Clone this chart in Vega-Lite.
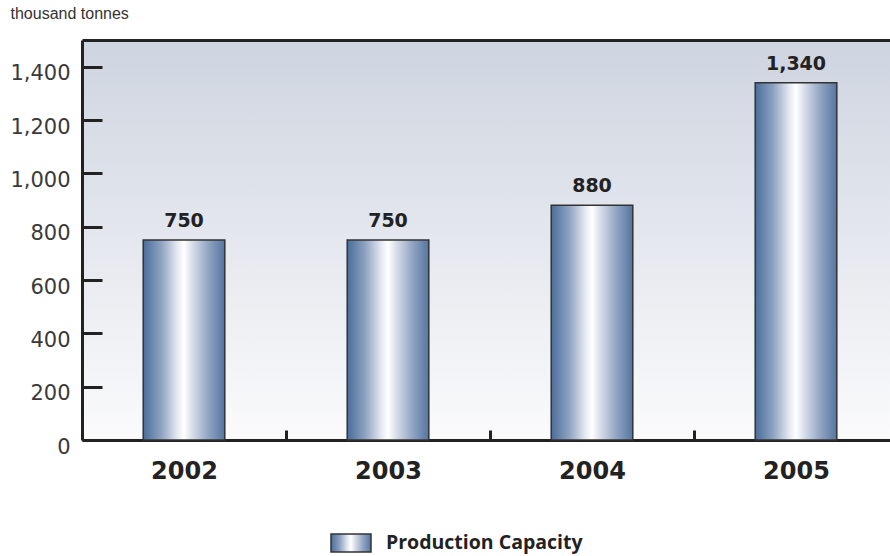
{
  "$schema": "https://vega.github.io/schema/vega-lite/v6.json",
  "autosize": {"type": "none"},
  "width": 808,
  "height": 400,
  "padding": {"left": 82, "top": 40, "right": 0, "bottom": 116},
  "background": "#ffffff",
  "config": {
    "view": {
      "stroke": null,
      "fill": {"gradient": "linear", "x1": 0, "y1": 0, "x2": 0, "y2": 1, "stops": [{"offset": 0, "color": "#ced4e0"}, {"offset": 1, "color": "#fbfbfc"}]}
    }
  },
  "data": {
    "values": [
      {"year": "2002", "capacity": 750, "series": "Production Capacity"},
      {"year": "2003", "capacity": 750, "series": "Production Capacity"},
      {"year": "2004", "capacity": 880, "series": "Production Capacity"},
      {"year": "2005", "capacity": 1340, "series": "Production Capacity"}
    ]
  },
  "encoding": {
    "x": {
      "field": "year",
      "type": "ordinal",
      "scale": {"paddingInner": 0.6, "paddingOuter": 0.2804, "align": 0.535},
      "axis": {
        "title": null,
        "tickBand": "center",
        "tickOffset": 102,
        "labelOffset": -102,
        "tickSize": -10,
        "tickWidth": 3,
        "tickColor": "#222222",
        "domainWidth": 3,
        "domainColor": "#222222",
        "labelFont": "DejaVu Sans",
        "labelFontWeight": "bold",
        "labelFontSize": 24,
        "labelColor": "#222222",
        "labelPadding": 29,
        "labelAngle": 0
      }
    },
    "y": {
      "field": "capacity",
      "type": "quantitative",
      "scale": {"domain": [0, 1500], "nice": false},
      "axis": {
        "values": [0, 200, 400, 600, 800, 1000, 1200, 1400],
        "format": ",.0f",
        "grid": false,
        "title": "thousand tonnes",
        "titleAngle": 0,
        "titleX": -72,
        "titleY": -22,
        "titleAlign": "left",
        "titleBaseline": "alphabetic",
        "titleFont": "Liberation Sans",
        "titleFontSize": 16,
        "titleFontWeight": "normal",
        "titleColor": "#333333",
        "labelFont": "DejaVu Sans",
        "labelFontSize": 21,
        "labelColor": "#3a3a3a",
        "labelPadding": 32,
        "labelOffset": 7,
        "tickSize": -20,
        "tickWidth": 3,
        "tickColor": "#222222",
        "domainWidth": 3,
        "domainColor": "#222222"
      }
    }
  },
  "layer": [
    {
      "mark": {
        "type": "bar",
        "strokeWidth": 1.5,
        "fill": {"gradient": "linear", "x1": 0, "y1": 0, "x2": 1, "y2": 0, "stops": [
          {"offset": 0, "color": "#4a6d9c"},
          {"offset": 0.22, "color": "#8ea2c0"},
          {"offset": 0.42, "color": "#e6eaf1"},
          {"offset": 0.5, "color": "#ffffff"},
          {"offset": 0.6, "color": "#d8dee9"},
          {"offset": 0.8, "color": "#91a4c2"},
          {"offset": 1, "color": "#5475a2"}
        ]}
      },
      "encoding": {
        "stroke": {
          "field": "series",
          "type": "nominal",
          "scale": {"range": ["#333333"]},
          "legend": {
            "orient": "none",
            "legendX": 248,
            "legendY": 482,
            "title": null,
            "symbolType": "M-1,-0.45H1V0.45H-1Z",
            "symbolSize": 1600,
            "symbolStrokeWidth": 1.5,
            "symbolStrokeColor": "#333333",
            "labelFont": "Open Sans",
            "labelFontWeight": "bold",
            "labelFontSize": 19.5,
            "labelColor": "#222222",
            "labelOffset": 14,
            "labelLimit": 400,
            "encode": {
              "symbols": {
                "update": {
                  "fill": {"value": {"gradient": "linear", "x1": 0, "y1": 0, "x2": 1, "y2": 0, "stops": [
                    {"offset": 0, "color": "#4a6d9c"},
                    {"offset": 0.5, "color": "#ffffff"},
                    {"offset": 1, "color": "#5475a2"}
                  ]}},
                  "fillOpacity": {"value": 1}
                }
              }
            }
          }
        }
      }
    },
    {
      "mark": {"type": "text", "baseline": "bottom", "dy": -9, "font": "DejaVu Sans", "fontWeight": "bold", "fontSize": 19, "fill": "#222222"},
      "encoding": {
        "text": {"field": "capacity", "type": "quantitative", "format": ","},
        "x": {
          "field": "year",
          "type": "ordinal",
          "axis": {"orient": "top", "domain": true, "domainWidth": 3, "domainColor": "#222222", "ticks": false, "labels": false, "title": null}
        }
      }
    }
  ],
  "resolve": {"axis": {"x": "independent"}}
}
